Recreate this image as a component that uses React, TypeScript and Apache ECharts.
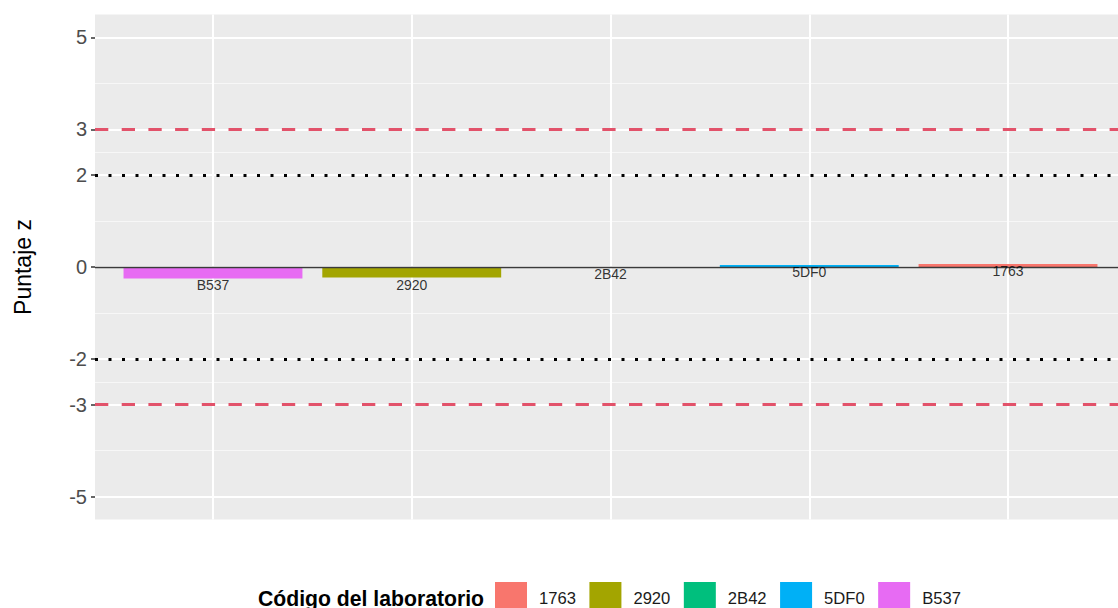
import React, { useEffect, useRef } from "react";
import * as echarts from "echarts";

// ---- data ----
const categories = ["B537", "2920", "2B42", "5DF0", "1763"];
const zScores = [-0.25, -0.23, 0, 0.045, 0.065];
const legendOrder = ["1763", "2920", "2B42", "5DF0", "B537"];
const labColors: Record<string, string> = {
  "1763": "#F8766D",
  "2920": "#A3A500",
  "2B42": "#00BF7D",
  "5DF0": "#00B0F6",
  B537: "#E76BF3",
};
const yTicks = [-5, -3, -2, 0, 2, 3, 5];
const yMinorGrid = [-4, -2.5, -1, 1, 2.5, 4];
const warningLimits = [-2, 2];
const actionLimits = [-3, 3];
const zeroLine = [0];
const yName = "Puntaje z";
const legendTitle = "Código del laboratorio";

const FONT = "'Liberation Sans', Arial, Helvetica, sans-serif";

export default function App() {
  const ref = useRef<HTMLDivElement>(null);
  useEffect(() => {
    if (!ref.current) return;
    const chart = echarts.init(ref.current, undefined, { renderer: "svg" });
    const gridTop = 14.5;
    const gridBottom = 88.5;
    const noneSym: any = ["none", "none"];

    const barSeries = legendOrder.map((lab) => ({
      name: lab,
      type: "bar",
      stack: "z",
      xAxisIndex: 1,
      yAxisIndex: 1,
      barWidth: "90%",
      z: 2,
      itemStyle: { color: labColors[lab] },
      data: categories.map((c, i) => (c === lab ? zScores[i] : "-")),
    }));

    const option: any = {
      animation: false,
      textStyle: { fontFamily: FONT },
      grid: [
        {
          left: 95,
          right: -8,
          top: gridTop,
          bottom: gridBottom,
          show: true,
          backgroundColor: "#EBEBEB",
          borderWidth: 0,
        },
        {
          left: 113.6,
          right: 10.6,
          top: gridTop,
          bottom: gridBottom,
          show: false,
        },
      ],
      xAxis: [
        { type: "value", gridIndex: 0, min: 0, max: 1, show: false },
        {
          type: "category",
          gridIndex: 1,
          data: categories,
          show: false,
          boundaryGap: true,
        },
      ],
      yAxis: [
        {
          type: "value",
          gridIndex: 0,
          min: -5.5,
          max: 5.5,
          axisLine: { show: false },
          splitLine: { show: false },
          axisTick: {
            show: true,
            length: 4,
            customValues: yTicks,
            lineStyle: { color: "#333333", width: 1.5 },
          },
          axisLabel: {
            customValues: yTicks,
            color: "#4D4D4D",
            fontSize: 20,
            fontFamily: FONT,
            margin: 8,
          },
          name: yName,
          nameLocation: "middle",
          nameRotate: 90,
          nameGap: 61,
          nameTextStyle: { fontSize: 23, color: "#000000", fontFamily: FONT },
        },
        {
          type: "value",
          gridIndex: 1,
          min: -5.5,
          max: 5.5,
          show: false,
        },
      ],
      legend: {
        data: legendOrder,
        left: 495,
        top: 582,
        padding: 0,
        itemWidth: 32,
        itemHeight: 32,
        itemGap: 13.5,
        icon: "rect",
        textStyle: {
          fontSize: 16.6,
          color: "#1A1A1A",
          fontFamily: FONT,
          padding: [0, 0, 0, 7],
        },
      },
      graphic: [
        {
          type: "text",
          x: 258,
          y: 598,
          style: {
            text: legendTitle,
            fontSize: 21.2,
            fontWeight: "bold",
            fontFamily: FONT,
            fill: "#000000",
            verticalAlign: "middle",
          },
        },
      ],
      series: [
        // horizontal grid lines (panel)
        {
          type: "line",
          xAxisIndex: 0,
          yAxisIndex: 0,
          data: [],
          z: 0.5,
          silent: true,
          markLine: {
            z: 0.5,
            silent: true,
            symbol: noneSym,
            label: { show: false },
            emphasis: { disabled: true },
            data: [
              ...yMinorGrid.map((v) => ({
                yAxis: v,
                lineStyle: { color: "#F7F7F7", width: 1, type: "solid" },
              })),
              ...yTicks.map((v) => ({
                yAxis: v,
                lineStyle: { color: "#FFFFFF", width: 2, type: "solid" },
              })),
            ],
          },
        },
        // vertical grid lines at category centres
        {
          type: "line",
          xAxisIndex: 1,
          yAxisIndex: 1,
          data: [],
          z: 0.5,
          silent: true,
          markLine: {
            z: 0.5,
            silent: true,
            symbol: noneSym,
            label: { show: false },
            emphasis: { disabled: true },
            data: categories.map((c) => ({
              xAxis: c,
              lineStyle: { color: "#FFFFFF", width: 2, type: "solid" },
            })),
          },
        },
        ...barSeries,
        // reference lines
        {
          type: "line",
          xAxisIndex: 0,
          yAxisIndex: 0,
          data: [],
          z: 3,
          silent: true,
          markLine: {
            z: 3,
            silent: true,
            symbol: noneSym,
            label: { show: false },
            emphasis: { disabled: true },
            data: [
              ...actionLimits.map((v) => ({
                yAxis: v,
                lineStyle: {
                  color: "#E2526A",
                  width: 3,
                  type: [13.3, 13.4],
                  cap: "butt",
                },
              })),
              ...warningLimits.map((v) => ({
                yAxis: v,
                lineStyle: {
                  color: "#000000",
                  width: 3,
                  type: [3, 10.5],
                  cap: "butt",
                },
              })),
              ...zeroLine.map((v) => ({
                yAxis: v,
                lineStyle: { color: "#3A3A3A", width: 1.3, type: "solid" },
              })),
            ],
          },
        },
        // bar labels
        {
          type: "scatter",
          xAxisIndex: 1,
          yAxisIndex: 1,
          symbolSize: 0,
          z: 4,
          silent: true,
          data: zScores,
          label: {
            show: true,
            position: "inside",
            offset: [0, 7],
            fontSize: 14,
            color: "#000000",
            fontFamily: FONT,
            formatter: (p: any) => categories[p.dataIndex],
          },
        },
      ],
    };
    chart.setOption(option);
    return () => chart.dispose();
  }, []);

  return (
    <div
      ref={ref}
      style={{
        position: "fixed",
        left: 0,
        top: 0,
        width: 1118,
        height: 608,
        background: "#FFFFFF",
      }}
    />
  );
}
